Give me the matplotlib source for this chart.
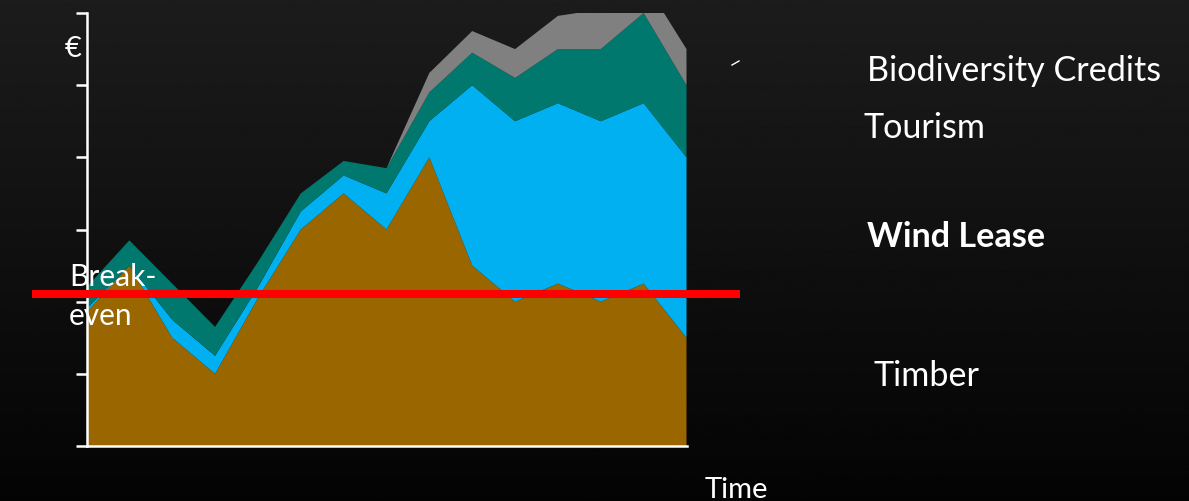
import numpy as np
import matplotlib.pyplot as plt
from matplotlib.lines import Line2D
from matplotlib.transforms import blended_transform_factory

# revenue streams per period, stacked bottom to top
periods = list(range(15))
timber = [1.85, 2.5, 1.5, 1.0, 2.05, 3.0, 3.5, 3.0, 4.0, 2.5, 2.0, 2.25, 2.0, 2.25, 1.5]
wind_lease = [0.05, 0.0, 0.25, 0.25, 0.15, 0.25, 0.25, 0.5, 0.5, 2.5, 2.5, 2.5, 2.5, 2.5, 2.5]
tourism = [0.3, 0.35, 0.5, 0.4, 0.35, 0.25, 0.2, 0.35, 0.4, 0.45, 0.6, 0.75, 1.0, 1.25, 1.0]
biodiversity = [0, 0, 0, 0, 0, 0, 0, 0, 0.27, 0.3, 0.4, 0.46, 0.55, 0.45, 0.5]
break_even = 2.1

colors = ["#996600", "#00b0f0", "#00786e", "#808080"]
W, H = 1189, 502

fig = plt.figure(figsize=(W / 100, H / 100), dpi=100)

# dark vertical gradient behind everything
bg = fig.add_axes([0, 0, 1, 1], zorder=-10)
grad = np.linspace(0.11, 0.015, 256).reshape(-1, 1)
bg.imshow(grad, aspect="auto", cmap="gray", vmin=0, vmax=1, extent=[0, 1, 0, 1])
bg.axis("off")

ax = fig.add_axes([86.5 / W, 1 - 447 / H, 600 / W, 433 / H])
ax.patch.set_alpha(0)
ax.stackplot(periods, timber, wind_lease, tourism, biodiversity, colors=colors, lw=0)
ax.set_xlim(0, 14)
ax.set_ylim(0, 6)

for s in ["top", "right"]:
    ax.spines[s].set_visible(False)
for s in ["left", "bottom"]:
    ax.spines[s].set_color("white")
    ax.spines[s].set_linewidth(1.8)
ax.set_xticks([])
ax.set_yticks(range(7))
ax.set_yticklabels([])
ax.tick_params(axis="y", direction="out", length=8, width=1.8, color="white")

# break-even line runs past both sides of the axes
tr = blended_transform_factory(fig.transFigure, ax.transData)
ax.plot([32 / W, 740 / W], [break_even, break_even], color="#ff0000", lw=5.8,
        transform=tr, clip_on=False, solid_capstyle="butt", zorder=5)

font = "Lato"
fs = 24.6
def label(x, y, s, size=fs, weight="normal"):
    fig.text(x / W, 1 - y / H, s, color="white", fontsize=size, family=font,
             weight=weight, va="baseline", ha="left")

label(69, 286, "Break-", size=21.5)
label(69, 325, "even", size=21.5)
label(65, 57, "€", size=21)
label(705, 498, "Time", size=21)
label(867, 81, "Biodiversity Credits")
label(863, 138, "Tourism")
label(867, 247, "Wind Lease", weight="bold")
label(874, 386, "Timber")

fig.add_artist(Line2D([732 / W, 739 / W], [1 - 66 / H, 1 - 62 / H], color="white", lw=1))

fig.savefig("out.png", dpi=100)
